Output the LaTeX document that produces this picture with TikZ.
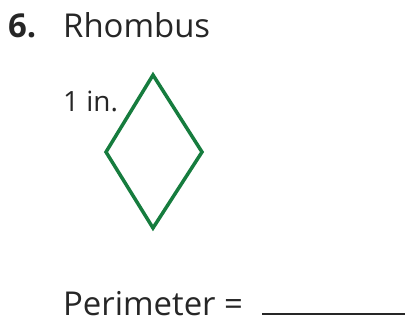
\documentclass[tikz,border=0pt]{standalone}
\usepackage{fontspec}
\setmainfont{Open Sans}
\definecolor{rhgreen}{RGB}{22,124,62}
\begin{document}
\begin{tikzpicture}[x=1bp,y=-1bp,
  txt/.style={anchor=base west,inner sep=0pt,font=\fontsize{33}{40}\selectfont,text=black!85},
  rhline/.style={draw=rhgreen,line width=3.5bp,line join=miter}]
\useasboundingbox (0,0) rectangle (409,329);
\node[txt,font=\fontsize{33}{40}\selectfont\bfseries] (num) at (8,37) {6.};
\node[txt] (title) at (63,37) {Rhombus};
\node[txt,font=\fontsize{28}{34}\selectfont] (len) at (63,111) {1 in.};
\coordinate (t) at (153,75);
\coordinate (r) at (202,152);
\coordinate (b) at (153,228);
\coordinate (l) at (106,152);
\draw[rhline] (t) -- (r) -- (b) -- (l) -- cycle;
\node[txt] (per) at (63,315) {Perimeter =};
\coordinate (u1) at (262,314);
\coordinate (u2) at (405,314);
\draw[line width=1.5bp,black!85] (u1) -- (u2);
\end{tikzpicture}
\end{document}
